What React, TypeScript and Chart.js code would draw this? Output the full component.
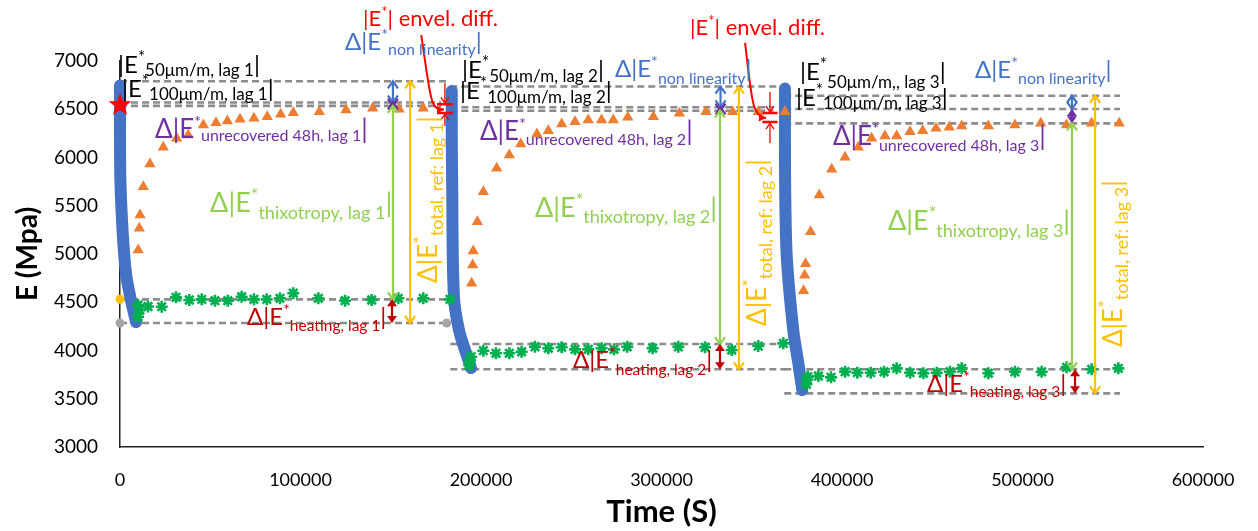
import { useEffect, useRef } from 'react';
import { Chart, registerables } from 'chart.js';

Chart.register(...registerables);

const FONT = 'Lato, "Open Sans", sans-serif';

// ---- Blue: loading curves (time in s, |E*| in MPa)
const load1T = [0, 0, 200, 1400, 3300, 6100, 8900];
const load1E = [6745, 6300, 5770, 5250, 4800, 4520, 4295];
const load2T = [183800, 183800, 184000, 185000, 187800, 191700, 194500];
const load2E = [6690, 6250, 5770, 4557, 4212, 3974, 3818];
const load3T = [368400, 368400, 368600, 369500, 373000, 375800, 378000];
const load3E = [6715, 6150, 5560, 4938, 4212, 3870, 3590];

// ---- Orange triangles: recovery
const rec1T = [10100, 10700, 11100, 12900, 16600, 24000, 31400, 37800, 46200, 53200, 59500, 66500, 74200, 81600, 89000, 96000, 110400, 125200, 140000, 154700, 168000];
const rec1E = [5042, 5266, 5404, 5697, 5933, 6106, 6199, 6233, 6337, 6361, 6378, 6396, 6406, 6423, 6447, 6464, 6475, 6492, 6510, 6500, 6510];
const rec2T = [194800, 195400, 195700, 198000, 201300, 208700, 215700, 222000, 231000, 237300, 244700, 252100, 259400, 266800, 273300, 281300, 295500, 309900, 324600, 339400, 353600, 368400];
const rec2E = [4697, 4886, 5031, 5335, 5646, 5888, 6026, 6140, 6244, 6278, 6347, 6371, 6389, 6389, 6389, 6416, 6423, 6458, 6475, 6475, 6475, 6475];
const rec3T = [378700, 379300, 379800, 382600, 387400, 394300, 401700, 409000, 416400, 423800, 430300, 437700, 444700, 452100, 459400, 466300, 481100, 495800, 510100, 524400, 538300, 553600];
const rec3E = [4620, 4780, 4900, 5230, 5611, 5878, 6002, 6106, 6199, 6223, 6223, 6267, 6278, 6303, 6313, 6326, 6326, 6337, 6354, 6337, 6354, 6354];

// ---- Green asterisks: heating / rest
const heat1T = [10000, 10000, 11000, 15500, 23100, 31000, 38400, 45300, 52600, 59700, 67400, 74200, 81300, 88600, 96000, 109900, 124700, 139400, 154200, 168000, 182800];
const heat1E = [4350, 4472, 4420, 4456, 4454, 4551, 4523, 4530, 4516, 4516, 4557, 4530, 4530, 4541, 4593, 4541, 4516, 4523, 4541, 4541, 4530];
const heat2T = [193500, 194000, 194500, 201300, 208300, 215700, 222500, 229900, 237300, 244700, 252100, 259400, 266800, 273700, 281000, 295100, 309300, 324100, 338900, 353600, 367500];
const heat2E = [3850, 3900, 3936, 3998, 3971, 3971, 3987, 4039, 4023, 4033, 4012, 4012, 4023, 4012, 4039, 4023, 4039, 4033, 4005, 4046, 4074];
const heat3T = [380300, 380600, 381000, 386900, 393900, 401700, 408500, 415900, 423300, 430300, 437700, 445100, 452500, 459800, 466300, 481100, 495800, 510600, 524400, 538300, 553100];
const heat3E = [3650, 3700, 3728, 3736, 3722, 3780, 3770, 3770, 3780, 3815, 3770, 3764, 3770, 3780, 3815, 3764, 3780, 3780, 3826, 3805, 3815];

// ---- Grey dashed reference levels
const refStart = [0, 0, 0, 0, 0, 183000, 183000, 183000, 183000, 183000, 368000, 368000, 368000, 368000, 368000];
const refEnd = [181000, 178000, 178000, 181000, 181000, 366000, 362000, 362000, 369000, 369000, 554000, 554000, 554000, 554000, 554000];
const refE = [6790, 6570, 6535, 4530, 4285, 6735, 6520, 6485, 4067, 3805, 6640, 6503, 6354, 3805, 3556];

// ---- single markers
const starT = [0];
const starE = [6544];
const yellowDotT = [0];
const yellowDotE = [4530];
const greyDotT = [0, 181000];
const greyDotE = [4285, 4285];

const zip = (t: number[], e: number[]) => t.map((v, i) => ({ x: v, y: e[i] }));

const BLUE = '#4472C4';
const PURPLE = '#7030A0';
const LGREEN = '#92D050';
const DRED = '#C00000';
const YEL = '#FFC000';
const RED = '#FF0000';

// vertical double arrows: x, from, to (data units)
const ARROWS = [
  { x: 151200, from: 6790, to: 6570, color: BLUE, filled: false },
  { x: 151200, from: 6570, to: 6535, color: PURPLE, filled: false },
  { x: 151200, from: 6535, to: 4530, color: LGREEN, filled: false },
  { x: 150700, from: 4530, to: 4285, color: DRED, filled: true },
  { x: 160700, from: 6790, to: 4285, color: YEL, filled: false },
  { x: 332700, from: 6735, to: 6520, color: BLUE, filled: false },
  { x: 332700, from: 6520, to: 6485, color: PURPLE, filled: false },
  { x: 332400, from: 6485, to: 4067, color: LGREEN, filled: false },
  { x: 332400, from: 4067, to: 3805, color: DRED, filled: true },
  { x: 342900, from: 6735, to: 3805, color: YEL, filled: false },
  { x: 527400, from: 6640, to: 6503, color: BLUE, filled: false },
  { x: 527400, from: 6503, to: 6354, color: PURPLE, filled: true },
  { x: 527400, from: 6354, to: 3805, color: LGREEN, filled: false },
  { x: 529100, from: 3805, to: 3556, color: DRED, filled: true },
  { x: 540200, from: 6640, to: 3556, color: YEL, filled: false },
];

// red envelope-difference dimension marks
const DIMS = [
  { x: 180000, half: 4400, top: 6552, bot: 6460, outTop: 6772, outBot: 6326 },
  { x: 360100, half: 4200, top: 6460, bot: 6367, outTop: 6679, outBot: 6150 },
];
// red curved pointer arrows (start, c1, c2, end)
const CURVES = [
  [[166900, 7269], [172300, 6596], [171700, 6492], [179500, 6497]],
  [[346300, 7187], [350100, 6596], [350100, 6420], [357900, 6409]],
];

type Label = { x: number; y: number; color: string; pre: string; sub: string; post: string; big: number; small: number; subDy: number; rot?: boolean };
const L = (x: number, y: number, color: string, pre: string, sub: string, big: number, small: number, subDy: number, rot = false, post = '|'): Label =>
  ({ x, y, color, pre, sub, post, big, small, subDy, rot });

const LABELS: Label[] = [
  L(-1100, 6876, '#000', '|E', '50μm/m, lag 1', 24, 17, 3),
  L(1100, 6627, '#000', '|E', '100μm/m, lag 1', 24, 17, 3),
  L(124700, 7114, BLUE, 'Δ|E', 'non linearity', 24, 16, 5),
  L(19400, 6202, PURPLE, 'Δ|E', 'unrecovered 48h, lag 1', 26, 16, 3),
  L(49900, 5435, LGREEN, 'Δ|E', 'thixotropy, lag 1', 27, 18, 7),
  L(70400, 4264, DRED, 'Δ|E', 'heating, lag 1', 24, 15.5, 6),
  L(175600, 4700, YEL, 'Δ|E', 'total, ref: lag 1', 26, 18, 6, true),
  L(134600, 7362, RED, '|E', '', 22, 15, 0, false, '| envel. diff.'),
  L(189500, 6824, '#000', '|E', '50μm/m, lag 2', 24, 17, 4),
  L(188400, 6606, '#000', '|E', '100μm/m, lag 2', 24, 17, 4),
  L(274200, 6834, BLUE, 'Δ|E', 'non linearity', 24, 16, 7),
  L(199400, 6181, PURPLE, 'Δ|E', 'unrecovered 48h, lag 2', 26, 16, 5),
  L(229900, 5383, LGREEN, 'Δ|E', 'thixotropy, lag 2', 27, 18, 6),
  L(251000, 3819, DRED, 'Δ|E', 'heating, lag 2', 24, 15.5, 7),
  L(357900, 4254, YEL, 'Δ|E', 'total, ref: lag 2', 26, 18, 6, true),
  L(315800, 7269, RED, '|E', '', 22, 15, 0, false, '| envel. diff.'),
  L(376700, 6803, '#000', '|E', '50μm/m,, lag 3', 24, 17, 8),
  L(374500, 6534, '#000', '|E', '100μm/m, lag 3', 24, 17, 3),
  L(473700, 6824, BLUE, 'Δ|E', 'non linearity', 24, 16, 6),
  L(395000, 6130, PURPLE, 'Δ|E', 'unrecovered 48h, lag 3', 26, 16, 6),
  L(425500, 5249, LGREEN, 'Δ|E', 'thixotropy, lag 3', 27, 18, 7),
  L(447100, 3570, DRED, 'Δ|E', 'heating, lag 3', 24, 15.5, 5),
  L(555100, 4036, YEL, 'Δ|E', 'total, ref: lag 3', 26, 18, 6, true),
];

function head(ctx: CanvasRenderingContext2D, x: number, y: number, dx: number, dy: number, filled: boolean, len = 7, wid = 5) {
  const bx = x - dx * len, by = y - dy * len;
  const nx = -dy, ny = dx;
  ctx.beginPath();
  ctx.moveTo(bx + nx * wid, by + ny * wid);
  ctx.lineTo(x, y);
  ctx.lineTo(bx - nx * wid, by - ny * wid);
  if (filled) { ctx.closePath(); ctx.fill(); } else ctx.stroke();
}

function drawLabel(ctx: CanvasRenderingContext2D, px: number, py: number, lb: Label) {
  ctx.save();
  ctx.translate(px, py);
  if (lb.rot) ctx.rotate(-Math.PI / 2);
  ctx.fillStyle = lb.color;
  ctx.textBaseline = 'alphabetic';
  ctx.textAlign = 'left';
  const segs = [
    { t: lb.pre, s: lb.big, dy: 0 },
    { t: '*', s: lb.small, dy: -lb.big * 0.42 },
    { t: lb.sub, s: lb.small, dy: lb.subDy },
    { t: lb.post, s: lb.big, dy: 0 },
  ];
  let x = 0;
  for (const sg of segs) {
    if (!sg.t) continue;
    ctx.font = `${sg.s}px ${FONT}`;
    ctx.fillText(sg.t, x, sg.dy);
    x += ctx.measureText(sg.t).width;
  }
  ctx.restore();
}

const annotPlugin = {
  id: 'annot',
  afterDatasetsDraw(chart: any) {
    const ctx: CanvasRenderingContext2D = chart.ctx;
    const xs = chart.scales.x, ys = chart.scales.y;
    const X = (v: number) => xs.getPixelForValue(v);
    const Y = (v: number) => ys.getPixelForValue(v);
    ctx.save();
    ctx.lineCap = 'butt';
    for (const a of ARROWS) {
      const x = X(a.x), y1 = Y(a.from), y2 = Y(a.to);
      const top = Math.min(y1, y2), bot = Math.max(y1, y2);
      ctx.strokeStyle = a.color; ctx.fillStyle = a.color; ctx.lineWidth = 2.2;
      ctx.beginPath(); ctx.moveTo(x, top + 1); ctx.lineTo(x, bot - 1); ctx.stroke();
      head(ctx, x, top, 0, -1, a.filled);
      head(ctx, x, bot, 0, 1, a.filled);
    }
    ctx.strokeStyle = RED; ctx.fillStyle = RED;
    for (const d of DIMS) {
      const x = X(d.x), xl = X(d.x - d.half), xr = X(d.x + d.half);
      const yt = Y(d.top), yb = Y(d.bot);
      ctx.lineWidth = 2.5;
      ctx.beginPath(); ctx.moveTo(xl, yt); ctx.lineTo(xr, yt); ctx.moveTo(xl, yb); ctx.lineTo(xr, yb); ctx.stroke();
      ctx.lineWidth = 1.3;
      ctx.beginPath(); ctx.moveTo(x, Y(d.outTop)); ctx.lineTo(x, yt - 1); ctx.moveTo(x, Y(d.outBot)); ctx.lineTo(x, yb + 1); ctx.stroke();
      head(ctx, x, yt - 1, 0, 1, false, 6, 4);
      head(ctx, x, yb + 1, 0, -1, false, 6, 4);
    }
    ctx.lineWidth = 2;
    for (const c of CURVES) {
      const p = c.map(([a, b]) => [X(a), Y(b)]);
      ctx.beginPath();
      ctx.moveTo(p[0][0], p[0][1]);
      ctx.bezierCurveTo(p[1][0], p[1][1], p[2][0], p[2][1], p[3][0], p[3][1]);
      ctx.stroke();
      const dx = p[3][0] - p[2][0], dy = p[3][1] - p[2][1];
      const n = Math.hypot(dx, dy) || 1;
      head(ctx, p[3][0], p[3][1], dx / n, dy / n, true, 7, 4);
    }
    for (const lb of LABELS) drawLabel(ctx, X(lb.x), Y(lb.y), lb);
    ctx.restore();
  },
};

function makeStar(R: number, r: number, color: string) {
  const c = document.createElement('canvas');
  c.width = 2 * R + 2; c.height = 2 * R + 2;
  const g = c.getContext('2d')!;
  g.fillStyle = color;
  g.beginPath();
  for (let i = 0; i < 10; i++) {
    const ang = -Math.PI / 2 + (i * Math.PI) / 5;
    const rad = i % 2 === 0 ? R : r;
    const x = R + 1 + Math.cos(ang) * rad, y = R + 1 + Math.sin(ang) * rad;
    if (i === 0) g.moveTo(x, y); else g.lineTo(x, y);
  }
  g.closePath(); g.fill();
  return c;
}

export default function App() {
  const ref = useRef<HTMLCanvasElement>(null);
  useEffect(() => {
    const canvas = ref.current!;
    const star = makeStar(12, 5, RED);
    const blueLine = (t: number[], e: number[], label: string) => ({
      label, data: zip(t, e), showLine: true, borderColor: BLUE, borderWidth: 12,
      borderCapStyle: 'round', borderJoinStyle: 'round', tension: 0.35, pointRadius: 0, clip: false,
    });
    const tri = (t: number[], e: number[], label: string) => ({
      label, data: zip(t, e), pointStyle: 'triangle', pointRadius: 6.5, backgroundColor: '#ED7D31',
      borderColor: '#ED7D31', borderWidth: 0, clip: false,
    });
    const ast = (t: number[], e: number[], label: string) => ({
      label, data: zip(t, e), pointStyle: 'star', pointRadius: 6, borderColor: '#00B050',
      backgroundColor: '#00B050', borderWidth: 2.6, clip: false,
    });
    const refs = refE.map((e, i) => ({
      label: 'ref ' + i, data: [{ x: refStart[i], y: e }, { x: refEnd[i], y: e }], showLine: true,
      borderColor: '#8C8C8C', borderWidth: 2.6, borderDash: [7, 4], pointRadius: 0, clip: false,
    }));
    const chart = new Chart(canvas, {
      type: 'scatter',
      data: {
        datasets: [
          { label: 'start', data: zip(starT, starE), pointStyle: star, pointRadius: 12, clip: false },
          ast(heat1T, heat1E, 'rest lag 1'),
          ast(heat2T, heat2E, 'rest lag 2'),
          ast(heat3T, heat3E, 'rest lag 3'),
          tri(rec1T, rec1E, 'recovery lag 1'),
          tri(rec2T, rec2E, 'recovery lag 2'),
          tri(rec3T, rec3E, 'recovery lag 3'),
          { label: 'yellow', data: zip(yellowDotT, yellowDotE), pointRadius: 4.5, backgroundColor: YEL, borderWidth: 0, clip: false },
          { label: 'grey', data: zip(greyDotT, greyDotE), pointRadius: 4.5, backgroundColor: '#A6A6A6', borderWidth: 0, clip: false },
          blueLine(load1T, load1E, 'loading lag 1'),
          blueLine(load2T, load2E, 'loading lag 2'),
          blueLine(load3T, load3E, 'loading lag 3'),
          ...refs,
        ] as any,
      },
      options: {
        responsive: false,
        animation: false,
        devicePixelRatio: 1,
        layout: { padding: { left: 0, top: 61, right: 55, bottom: 0 } },
        plugins: { legend: { display: false }, tooltip: { enabled: false } },
        scales: {
          x: {
            type: 'linear', min: 0, max: 600000,
            ticks: { stepSize: 100000, callback: (v: any) => String(v), color: '#000', font: { family: FONT, size: 18 }, padding: 22, maxRotation: 0, autoSkip: false },
            grid: { display: false, drawTicks: false },
            border: { display: true, color: '#222', width: 1.5 },
            title: { display: true, text: 'Time (S)', color: '#000', font: { family: FONT, size: 31, weight: 'bold' }, padding: { top: 0, bottom: 0 } },
            afterFit: (s: any) => { s.height = 84; },
          },
          y: {
            type: 'linear', min: 3000, max: 7000,
            ticks: { stepSize: 500, callback: (v: any) => String(v), color: '#000', font: { family: FONT, size: 19 }, padding: 22 },
            grid: { display: false, drawTicks: false },
            border: { display: true, color: '#222', width: 1.5 },
            title: { display: true, text: 'E (Mpa)', color: '#000', font: { family: FONT, size: 28, weight: 'bold' }, padding: { top: 11, bottom: 0 } },
            afterFit: (s: any) => { s.width = 120; },
          },
        },
      } as any,
      plugins: [annotPlugin],
    });
    return () => chart.destroy();
  }, []);
  return (
    <div style={{ position: 'absolute', left: 0, top: 0, width: 1258, height: 531, background: '#fff' }}>
      <canvas ref={ref} width={1258} height={531} style={{ display: 'block', width: 1258, height: 531 }} />
    </div>
  );
}
